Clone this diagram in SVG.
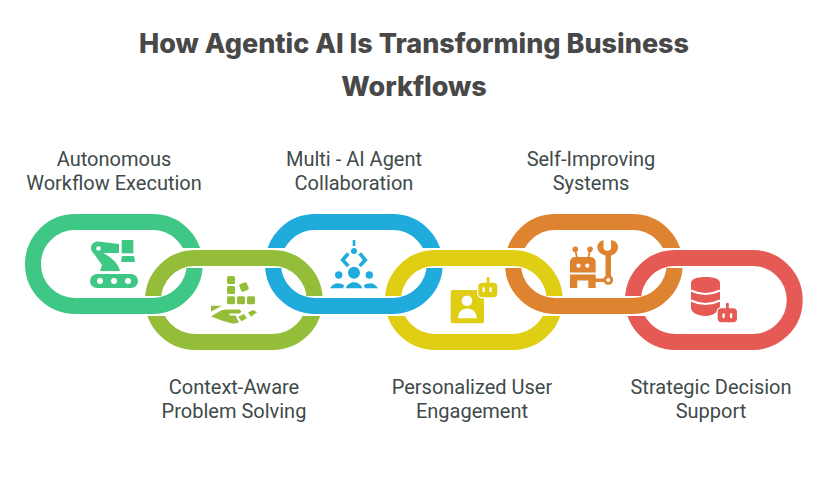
<svg xmlns="http://www.w3.org/2000/svg" width="829" height="478" viewBox="0 0 829 478">
<style>
.t{font-family:Inter,"Liberation Sans",sans-serif;font-weight:800;font-size:27px;fill:#484848;text-anchor:middle}
.l{font-family:Roboto,"Liberation Sans",sans-serif;font-size:20px;fill:#404a4a;text-anchor:middle}
.r{fill:none;stroke-width:16}
.w{fill:#fff}
.e{fill:none;stroke:#fff;stroke-width:2}
</style>
<defs>
<clipPath id="c1"><path clip-rule="evenodd" d="M0 200H829V360H0ZM170 248H215V268H170Z"/></clipPath>
<clipPath id="c2"><path clip-rule="evenodd" d="M0 200H829V360H0ZM135 296H180V316H135ZM290 296H335V316H290Z"/></clipPath>
<clipPath id="c3"><path clip-rule="evenodd" d="M0 200H829V360H0ZM255 248H300V268H255ZM410 248H455V268H410Z"/></clipPath>
<clipPath id="c4"><path clip-rule="evenodd" d="M0 200H829V360H0ZM375 296H420V316H375ZM530 296H575V316H530Z"/></clipPath>
<clipPath id="c5"><path clip-rule="evenodd" d="M0 200H829V360H0ZM495 248H540V268H495ZM650 248H695V268H650Z"/></clipPath>
<clipPath id="c6"><path clip-rule="evenodd" d="M0 200H829V360H0ZM615 296H660V316H615Z"/></clipPath>
</defs>
<rect width="829" height="478" fill="#fff"/>
<text class="t" x="414" y="52.5">How Agentic AI Is Transforming Business</text>
<text class="t" x="414" y="95.5">Workflows</text>
<g id="connectors"></g>
<g id="node1">
<rect x="33" y="222" width="161.7" height="84" rx="42" class="r" stroke="#3fc786" clip-path="url(#c1)"/>
<text class="l" x="114" y="166">Autonomous</text><text class="l" x="114" y="190">Workflow Execution</text>
<g fill="#3fc786">
<rect x="90" y="274" width="48" height="14" rx="7"/>
<circle cx="100" cy="281" r="3" class="w"/><circle cx="114" cy="281" r="3" class="w"/><circle cx="128" cy="281" r="3" class="w"/>
<path d="M91 248C91 244 94.5 241.5 98 241.5L119 244V253H103.5C110 257 118 262 120 271H100L102 265L93 252.5C91.5 251 91 250 91 248Z"/>
<circle cx="98.5" cy="248.5" r="2.3" class="w"/>
<rect x="121.7" y="240" width="11.6" height="13.3"/>
<path d="M122 256H134L135 262H121Z"/>
</g>
</g>
<g id="node2">
<rect x="153" y="258" width="161.7" height="84" rx="42" class="r" stroke="#94be39" clip-path="url(#c2)"/>
<text class="l" x="234" y="394">Context-Aware</text><text class="l" x="234" y="418">Problem Solving</text>
<g fill="#94be39">
<rect x="227" y="276" width="8" height="8" rx="1.5"/><rect x="227" y="286" width="8" height="8" rx="1.5"/><rect x="227" y="296.3" width="8" height="8" rx="1.5"/><rect x="237" y="296.3" width="8" height="8" rx="1.5"/><rect x="247" y="296.3" width="8" height="8" rx="1.5"/>
<rect x="240" y="283" width="8" height="8" rx="1.5" transform="rotate(-22 244 287)"/>
<path d="M211 305.7H222Q216 309 211 311.5Z"/>
<path d="M211 316.5C217 313 221 309.5 226 309.5H239a2 2 0 0 1 0 4H229.5V315.5H235.5L239 322.5L233 323.8Q222 321 211 316.5Z"/>
<path d="M238.3 316.7L244 314L247 318.3L241.3 321.3Z"/>
<path d="M248 312.3L253.3 310L257 312.3L251 316.7Z"/>
</g>
</g>
<g id="node3">
<rect x="273" y="222" width="161.7" height="84" rx="42" class="r" stroke="#1facdd" clip-path="url(#c3)"/>
<text class="l" x="354" y="166">Multi - AI Agent</text><text class="l" x="354" y="190">Collaboration</text>
<g fill="#1facdd">
<rect x="352.7" y="240" width="2.6" height="6"/>
<circle cx="354" cy="251" r="3"/>
<path d="M348.3 253.3L342.7 260L348.3 266M359.7 253.3L365.3 260L359.7 266" fill="none" stroke="#1facdd" stroke-width="3.6"/>
<circle cx="354" cy="272.7" r="6"/><circle cx="338.7" cy="275" r="3.7"/><circle cx="369.3" cy="275" r="3.7"/>
<path d="M345.7 288.3C347 284 351 282.3 354 282.3C357 282.3 361 284 362.3 288.3Z"/>
<path d="M330 288.3C332 285 335 283.3 338 283.3C340 283.3 342.5 284 344.3 285.5Q343.3 287 343 288.3Z"/>
<path d="M378 288.3C376 285 373 283.3 370 283.3C368 283.3 365.5 284 363.7 285.5Q364.7 287 365 288.3Z"/>
</g>
</g>
<g id="node4">
<rect x="393" y="258" width="161.7" height="84" rx="42" class="r" stroke="#e0ce14" clip-path="url(#c4)"/>
<text class="l" x="472" y="394">Personalized User</text><text class="l" x="472" y="418">Engagement</text>
<g fill="#e0ce14">
<rect x="450.7" y="290" width="33.3" height="33.3" rx="2"/>
<circle cx="467" cy="300.7" r="5.3" class="w"/>
<path d="M458 318.3C458 312 462 308.5 467.3 308.5C472.5 308.5 476.7 312 476.7 318.3Z" class="w"/>
<rect x="478.3" y="282.7" width="19" height="14.6" rx="4" stroke="#fff" stroke-width="2.5" paint-order="stroke"/>
<rect x="486.7" y="277" width="2.8" height="6.5" rx="1.2"/>
<rect x="482.5" y="287.3" width="2.2" height="5" rx="1" class="w"/><rect x="489.5" y="287.3" width="2.2" height="5" rx="1" class="w"/>
</g>
</g>
<g id="node5">
<rect x="513" y="222" width="161.7" height="84" rx="42" class="r" stroke="#de8430" clip-path="url(#c5)"/>
<text class="l" x="591" y="166">Self-Improving</text><text class="l" x="591" y="190">Systems</text>
<g fill="#de8430">
<circle cx="575.3" cy="249.3" r="2.8"/><circle cx="590" cy="249.3" r="2.8"/>
<path d="M575.3 250L577 258M590 250L588.3 258" stroke="#de8430" stroke-width="1.8" fill="none"/>
<path d="M570 272.5V262a5 5 0 0 1 5-5h15.7a5 5 0 0 1 5 5V272.5Z"/>
<circle cx="578.5" cy="265.7" r="2.1" class="w"/><circle cx="587.3" cy="265.7" r="2.1" class="w"/>
<path d="M570 274.5H595.7V278.5H606V282H595.7V288H588.3V280.5H577.3V288H570Z"/>
<circle cx="608.3" cy="280" r="4.8"/>
<circle cx="608.3" cy="280" r="2" class="w"/>
<path d="M603.5 240V247a3.8 3.8 0 0 0 7.6 0V240C616 241 618 244 618 247C618 251 615 254.5 611 255.5V276H605.5V255.5C601 254.5 597.3 251 597.3 247C597.3 244 600 241 603.5 240Z"/>
</g>
</g>
<g id="node6">
<rect x="633" y="258" width="161.7" height="84" rx="42" class="r" stroke="#e65a55" clip-path="url(#c6)"/>
<text class="l" x="711" y="394">Strategic Decision</text><text class="l" x="711" y="418">Support</text>
<g fill="#e65a55">
<path d="M691 283C691 279 697 277 705.5 277C714 277 720 279 720 283V306C720 310 714 316 705.5 316C697 316 691 312 691 308Z"/>
<path d="M691 290.5Q705.5 297.5 720 290.5M691 300.5Q705.5 307.5 720 300.5" class="e"/>
<rect x="717.7" y="308.3" width="19.3" height="14" rx="4" stroke="#fff" stroke-width="2.5" paint-order="stroke"/>
<rect x="726" y="302.7" width="2.8" height="6.5" rx="1.2"/>
<rect x="722.5" y="313.3" width="2.2" height="5" rx="1" class="w"/><rect x="730" y="313.3" width="2.2" height="5" rx="1" class="w"/>
</g>
</g>
</svg>
